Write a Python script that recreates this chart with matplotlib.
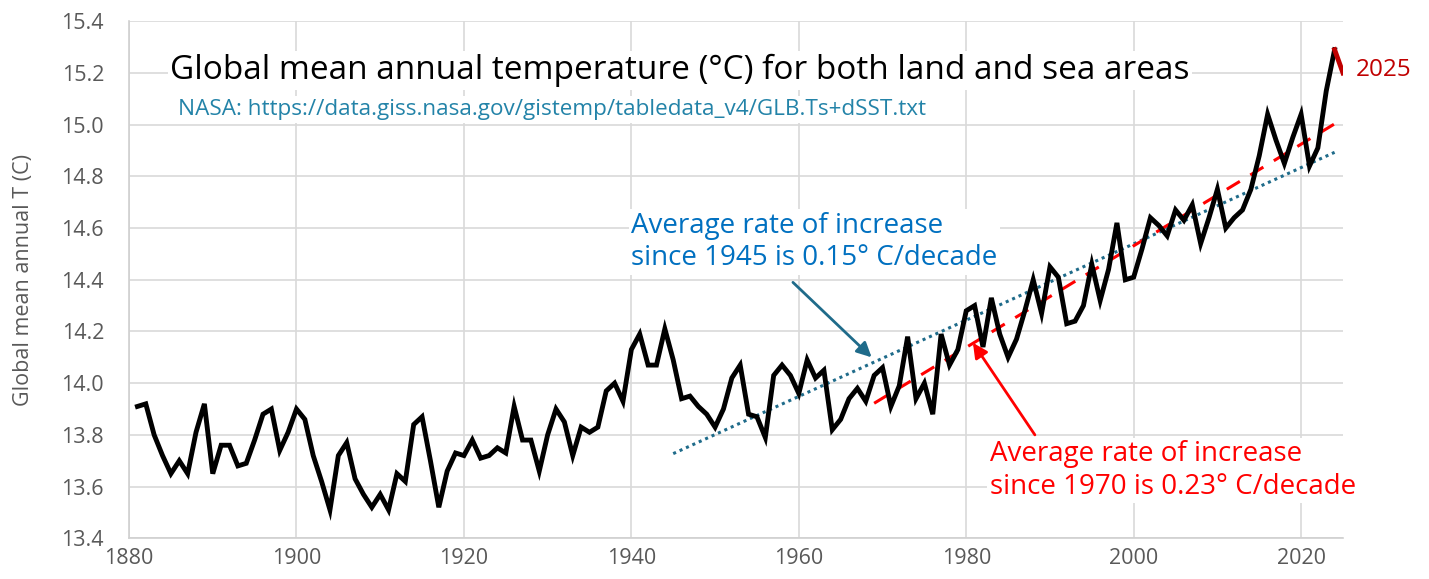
import numpy as np
import matplotlib
matplotlib.use("Agg")
from matplotlib import pyplot as plt

# NASA GISTEMP global mean annual temperature (deg C)
years = list(range(1881, 2025))
temps = [
    13.91, 13.92, 13.80, 13.72, 13.65, 13.70, 13.65, 13.81, 13.92, 13.65,  # 1881-1890
    13.76, 13.76, 13.68, 13.69, 13.78, 13.88, 13.90, 13.74, 13.81, 13.90,  # 1891-1900
    13.86, 13.72, 13.62, 13.51, 13.72, 13.77, 13.63, 13.57, 13.52, 13.57,  # 1901-1910
    13.51, 13.65, 13.62, 13.84, 13.87, 13.70, 13.52, 13.66, 13.73, 13.72,  # 1911-1920
    13.78, 13.71, 13.72, 13.75, 13.73, 13.91, 13.78, 13.78, 13.66, 13.80,  # 1921-1930
    13.90, 13.85, 13.72, 13.83, 13.81, 13.83, 13.97, 14.00, 13.93, 14.13,  # 1931-1940
    14.19, 14.07, 14.07, 14.21, 14.09, 13.94, 13.95, 13.91, 13.88, 13.83,  # 1941-1950
    13.90, 14.02, 14.07, 13.88, 13.87, 13.79, 14.03, 14.07, 14.03, 13.96,  # 1951-1960
    14.09, 14.02, 14.05, 13.82, 13.86, 13.94, 13.98, 13.93, 14.03, 14.06,  # 1961-1970
    13.91, 13.99, 14.18, 13.94, 14.00, 13.88, 14.19, 14.07, 14.13, 14.28,  # 1971-1980
    14.30, 14.14, 14.33, 14.19, 14.10, 14.17, 14.28, 14.40, 14.27, 14.45,  # 1981-1990
    14.41, 14.23, 14.24, 14.30, 14.46, 14.32, 14.44, 14.62, 14.40, 14.41,  # 1991-2000
    14.52, 14.64, 14.61, 14.57, 14.67, 14.63, 14.69, 14.54, 14.64, 14.75,  # 2001-2010
    14.60, 14.64, 14.67, 14.75, 14.88, 15.04, 14.94, 14.85, 14.95, 15.04,  # 2011-2020
    14.84, 14.91, 15.13, 15.29,                                            # 2021-2024
]
year_2025 = 2025
temp_2025 = 15.20

trend_starts = [1945, 1970]

plt.rcParams['font.family'] = ['Open Sans', 'DejaVu Sans']

fig = plt.figure(figsize=(14.29, 5.79), dpi=100)
ax = fig.add_axes([0.0903, 0.0703, 0.8495, 0.893])

yrs = np.array(years)
tt = np.array(temps)

ax.plot(yrs, tt, color='black', lw=3.5, solid_joinstyle='miter', zorder=4)
ax.plot([years[-1], year_2025], [temps[-1], temp_2025], color='#C00000', lw=3.5, zorder=4)

# linear trend lines
m1 = yrs >= trend_starts[0]
p1 = np.polyfit(yrs[m1], tt[m1], 1)
ax.plot(yrs[m1], np.polyval(p1, yrs[m1]), color='#1F6B8A', lw=2.2, ls=(0, (1, 1.3)), zorder=3)
m2 = yrs >= trend_starts[1] - 1
p2 = np.polyfit(yrs[m2], tt[m2], 1)
ax.plot(yrs[m2], np.polyval(p2, yrs[m2]), color='#FF0000', lw=2.2, ls=(0, (5, 4)), zorder=3)

ax.set_xlim(1880, 2025)
ax.set_ylim(13.4, 15.4)
ax.set_xticks(range(1880, 2021, 20))
ax.set_yticks(np.arange(13.4, 15.41, 0.2))
ax.yaxis.set_major_formatter(matplotlib.ticker.FormatStrFormatter('%.1f'))
ax.grid(True, color='#D9D9D9', lw=1.2, zorder=0)
ax.set_axisbelow(True)
ax.tick_params(length=0, labelsize=15.5, labelcolor='#595959')
ax.tick_params(axis='y', pad=18)
ax.tick_params(axis='x', pad=7)
for s in ['top', 'right']:
    ax.spines[s].set_visible(False)
for s in ['left', 'bottom']:
    ax.spines[s].set_color('#D0D0D0')
    ax.spines[s].set_linewidth(1.2)
ax.set_ylabel('Global mean annual T (C)', fontsize=15.5, color='#595959', labelpad=20)

wbox = dict(facecolor='white', edgecolor='none', pad=2)
ax.text(0.034, 0.905, 'Global mean annual temperature (°C) for both land and sea areas',
        transform=ax.transAxes, fontsize=24, color='black', va='center', ha='left',
        bbox=wbox, zorder=5)
ax.text(0.040, 0.829, 'NASA: https://data.giss.nasa.gov/gistemp/tabledata_v4/GLB.Ts+dSST.txt',
        transform=ax.transAxes, fontsize=16.2, color='#2383A8', va='center', ha='left',
        bbox=wbox, zorder=5)

ax.text(1940.0, 14.545, 'Average rate of increase\nsince 1945 is 0.15° C/decade',
        fontsize=20, color='#0070C0', ha='left', va='center', linespacing=1.2,
        bbox=wbox, zorder=5)
ax.annotate('', xy=(1968.7, 14.10), xytext=(1959.3, 14.39),
            arrowprops=dict(arrowstyle='-|>', color='#1F6B8A', lw=2, mutation_scale=22,
                            shrinkA=0, shrinkB=0), zorder=5)
ax.text(1982.8, 13.662, 'Average rate of increase\nsince 1970 is 0.23° C/decade',
        fontsize=20, color='#FF0000', ha='left', va='center', linespacing=1.2,
        bbox=wbox, zorder=5)
ax.annotate('', xy=(1980.8, 14.156), xytext=(1988.2, 13.80),
            arrowprops=dict(arrowstyle='-|>', color='#FF0000', lw=2, mutation_scale=22,
                            shrinkA=0, shrinkB=0), zorder=5)

ax.text(2026.5, 15.21, '2025', fontsize=17.5, color='#C00000', va='center', ha='left',
        clip_on=False)

fig.savefig('out.png', dpi=100)
